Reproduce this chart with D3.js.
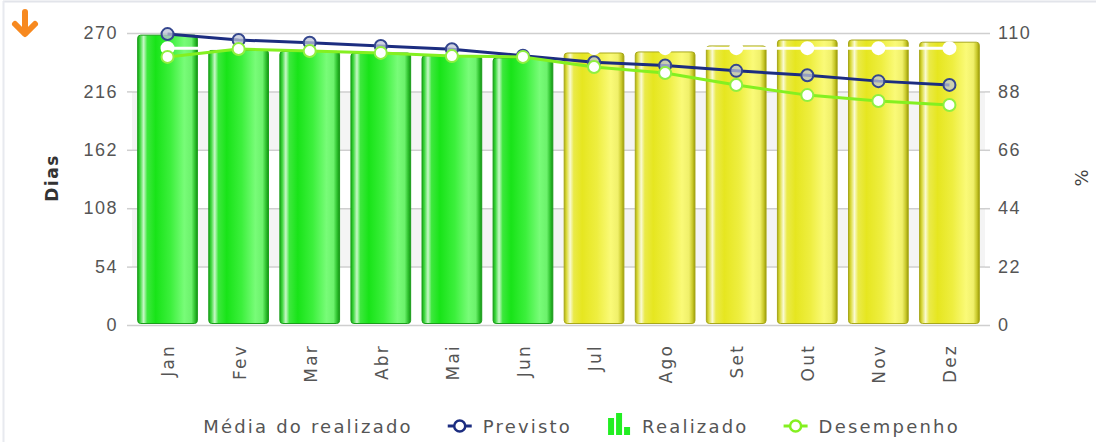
<!DOCTYPE html>
<html>
<head>
<meta charset="utf-8">
<script src="https://cdn.jsdelivr.net/npm/d3@7"></script>
<style>
  body { margin: 0; background: #fff; }
  svg { display: block; font-family: "DejaVu Sans", Verdana, sans-serif; }
</style>
</head>
<body>
<div id="chart"></div>
<script>
// data
const months = ["Jan", "Fev", "Mar", "Abr", "Mai", "Jun", "Jul", "Ago", "Set", "Out", "Nov", "Dez"];
const realizado = [268, 254, 253, 251.5, 249, 247, 251.5, 252.5, 258, 263.5, 263.5, 261.5];
const realizadoTipo = ["real", "real", "real", "real", "real", "real", "proj", "proj", "proj", "proj", "proj", "proj"];
const previsto = [269, 263.5, 261, 258, 255, 249, 243, 240, 235, 231, 225.5, 222];
const mediaRealizado = [256, 256, 256, 256, 256, 256, 256, 256, 256, 256, 256, 256];
const desempenho = [101.0, 104.0, 103.2, 102.5, 101.3, 101.0, 97.2, 94.9, 90.4, 86.6, 84.4, 82.9];
const diasTicks = [0, 54, 108, 162, 216, 270];
const pctTicks = [0, 22, 44, 66, 88, 110];
const legendItems = ["Média do realizado", "Previsto", "Realizado", "Desempenho"];

const width = 1096, height = 442;
const plot = {left: 132, right: 985, top: 33, bottom: 325};

const svg = d3.select("#chart").append("svg")
  .attr("width", width)
  .attr("height", height);

// frame lines (top and left only visible)
svg.append("line").attr("x1", 3).attr("x2", width).attr("y1", 1.5).attr("y2", 1.5)
  .attr("stroke", "#e2e4ea").attr("stroke-width", 2);
svg.append("line").attr("x1", 3.5).attr("x2", 3.5).attr("y1", 1).attr("y2", height)
  .attr("stroke", "#e8eaef").attr("stroke-width", 2);

// orange arrow icon
const arrow = svg.append("g").attr("stroke", "#f7891f").attr("stroke-width", 6)
  .attr("stroke-linecap", "round").attr("stroke-linejoin", "round").attr("fill", "none");
arrow.append("path").attr("d", "M25,12 L25,33");
arrow.append("path").attr("d", "M15,24 L25,34 L35,24");

// scales
const x = d3.scaleBand().domain(months).range([plot.left, plot.right]).padding(0);
const yDias = d3.scaleLinear().domain([0, 270]).range([plot.bottom, plot.top]);
const yPct = d3.scaleLinear().domain([0, 110]).range([plot.bottom, plot.top]);

// alternating bands
svg.append("g").selectAll("rect")
  .data(d3.pairs(diasTicks))
  .enter().append("rect")
  .attr("x", plot.left)
  .attr("width", plot.right - plot.left)
  .attr("y", d => yDias(d[1]))
  .attr("height", d => yDias(d[0]) - yDias(d[1]))
  .attr("fill", (d, i) => i % 2 === 1 ? "#f4f4f4" : "#ffffff");

// gridlines
svg.append("g").selectAll("line")
  .data(diasTicks)
  .enter().append("line")
  .attr("x1", plot.left).attr("x2", plot.right)
  .attr("y1", d => yDias(d) + 0.5).attr("y2", d => yDias(d) + 0.5)
  .attr("stroke", "#cfcfcf").attr("stroke-width", 1.5);

// axes
function styleAxis(g) {
  g.select(".domain").remove();
  g.selectAll(".tick line").attr("stroke", "#cfcfcf").attr("stroke-width", 1.5);
  g.selectAll(".tick text")
    .attr("fill", "#555")
    .style("font-size", "18px")
    .style("letter-spacing", "1.5px");
}

svg.append("g")
  .attr("transform", `translate(${plot.left},0)`)
  .call(d3.axisLeft(yDias).tickValues(diasTicks).tickSize(5).tickPadding(9))
  .call(styleAxis);

svg.append("g")
  .attr("transform", `translate(${plot.right},0)`)
  .call(d3.axisRight(yPct).tickValues(pctTicks).tickSize(5).tickPadding(8))
  .call(styleAxis);

// axis titles
svg.append("text")
  .attr("transform", "translate(52,178) rotate(-90)")
  .attr("text-anchor", "middle").attr("dy", "0.35em")
  .attr("fill", "#333").style("font-size", "17px").style("font-weight", "bold")
  .style("letter-spacing", "1.5px")
  .text("Dias");

svg.append("text")
  .attr("transform", "translate(1082,178) rotate(-90)")
  .attr("text-anchor", "middle").attr("dy", "0.35em")
  .attr("fill", "#444").style("font-size", "18px")
  .text("%");

// month labels
svg.append("g").selectAll("text")
  .data(months)
  .enter().append("text")
  .attr("transform", d => `translate(${x(d) + x.bandwidth() / 2 + 1},344) rotate(-90)`)
  .attr("text-anchor", "end").attr("dy", "0.35em")
  .attr("fill", "#555").style("font-size", "17px").style("letter-spacing", "2.2px")
  .text(d => d);

// gradients for cylinder bars
const defs = svg.append("defs");
function cylinder(id, stops) {
  const g = defs.append("linearGradient").attr("id", id)
    .attr("x1", "0%").attr("x2", "100%").attr("y1", "0%").attr("y2", "0%");
  stops.forEach(s => g.append("stop").attr("offset", s[0]).attr("stop-color", s[1]));
}
cylinder("gradGreen", [
  ["0%", "#17a817"], ["4%", "#3ed83e"], ["10%", "#c8f8c8"], ["16%", "#3de83d"],
  ["30%", "#18e418"], ["55%", "#3cf03c"], ["78%", "#78fc78"], ["90%", "#6cf26c"],
  ["96%", "#2cc02c"], ["100%", "#179017"]
]);
cylinder("gradYellow", [
  ["0%", "#b0b010"], ["4%", "#dcdc40"], ["10%", "#fafad2"], ["16%", "#eaea4a"],
  ["30%", "#e6e620"], ["55%", "#eeee40"], ["78%", "#fafa78"], ["90%", "#f0f06a"],
  ["96%", "#c8c82a"], ["100%", "#9a9a08"]
]);

// bars
const barW = x.bandwidth() * 0.84;
svg.append("g").selectAll("rect")
  .data(realizado)
  .enter().append("rect")
  .attr("x", (d, i) => x(months[i]) + (x.bandwidth() - barW) / 2)
  .attr("width", barW)
  .attr("y", d => yDias(d))
  .attr("height", d => yDias(0) - yDias(d) - 1.5)
  .attr("rx", 3)
  .attr("fill", (d, i) => realizadoTipo[i] === "real" ? "url(#gradGreen)" : "url(#gradYellow)")
  .attr("stroke", (d, i) => realizadoTipo[i] === "real" ? "#1a9e1a" : "#a8a81a")
  .attr("stroke-width", 1);

const cx = i => x(months[i]) + x.bandwidth() / 2;

// line series
function series(values, yScale, lineColor, dotFill, dotStroke) {
  const line = d3.line().x((d, i) => cx(i)).y(d => yScale(d));
  svg.append("path")
    .datum(values)
    .attr("d", line)
    .attr("fill", "none")
    .attr("stroke", lineColor)
    .attr("stroke-width", 3)
    .attr("stroke-linejoin", "round");
  svg.append("g").selectAll("circle")
    .data(values)
    .enter().append("circle")
    .attr("cx", (d, i) => cx(i))
    .attr("cy", d => yScale(d))
    .attr("r", 6)
    .attr("fill", dotFill)
    .attr("stroke", dotStroke)
    .attr("stroke-width", 2);
}

series(mediaRealizado, yDias, "#ffffff", "#ffffff", "#ffffff");
series(previsto, yDias, "#1c2d80", "rgba(190,196,215,0.75)", "#34468e");
series(desempenho, yPct, "#84f020", "#ffffff", "#90f040");

// legend
const legend = svg.append("g");
const legendY = 427;
const items = legend.selectAll("g")
  .data(legendItems)
  .enter().append("g");

items.append("text")
  .attr("x", 35).attr("y", legendY).attr("dy", "0.35em")
  .attr("fill", "#555").style("font-size", "18px").style("letter-spacing", "2.2px")
  .text(d => d);

items.each(function(d, i) {
  const g = d3.select(this);
  if (i === 0) {
    g.append("line").attr("x1", 0).attr("x2", 24).attr("y1", legendY).attr("y2", legendY)
      .attr("stroke", "#fff").attr("stroke-width", 3);
    g.append("circle").attr("cx", 12).attr("cy", legendY).attr("r", 5).attr("fill", "#fff");
  } else if (i === 1) {
    g.append("line").attr("x1", 0).attr("x2", 24).attr("y1", legendY - 1).attr("y2", legendY - 1)
      .attr("stroke", "#1c2d80").attr("stroke-width", 3);
    g.append("circle").attr("cx", 12).attr("cy", legendY - 1).attr("r", 5.5)
      .attr("fill", "#fff").attr("stroke", "#1c2d80").attr("stroke-width", 2.5);
  } else if (i === 2) {
    const hs = [17, 22, 8];
    hs.forEach((h, k) => {
      g.append("rect").attr("x", 1 + k * 8).attr("y", 435 - h).attr("width", 6).attr("height", h)
        .attr("fill", "#22ee22");
    });
  } else {
    g.append("line").attr("x1", 0).attr("x2", 24).attr("y1", legendY - 1).attr("y2", legendY - 1)
      .attr("stroke", "#84f020").attr("stroke-width", 3);
    g.append("circle").attr("cx", 12).attr("cy", legendY - 1).attr("r", 5.5)
      .attr("fill", "#fff").attr("stroke", "#84f020").attr("stroke-width", 2.5);
  }
});

// flow the legend items and center them
let pos = 0;
const offsets = [];
items.each(function() {
  const w = d3.select(this).select("text").node().getComputedTextLength();
  offsets.push(pos);
  pos += 35 + w + 35;
});
const total = pos - 35;
const start = 564 - total / 2;
items.attr("transform", (d, i) => `translate(${start + offsets[i]},0)`);
</script>
</body>
</html>
